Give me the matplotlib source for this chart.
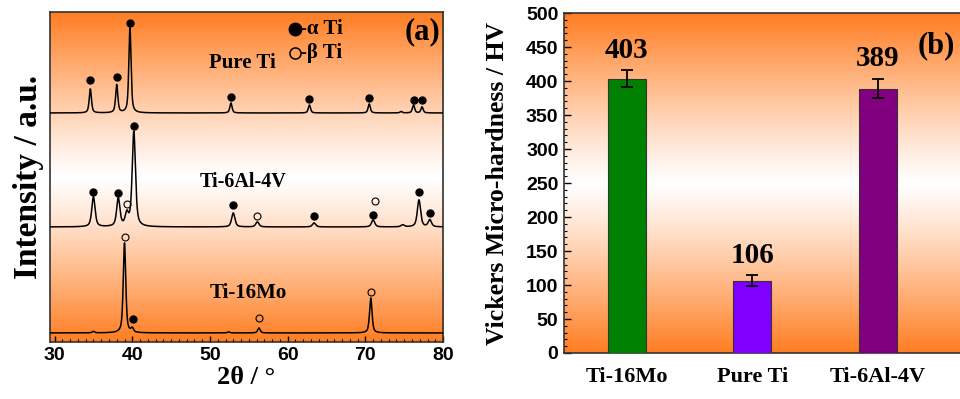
import matplotlib
matplotlib.use('Agg')
import matplotlib.pyplot as plt
import numpy as np
from matplotlib.colors import to_rgb
from matplotlib.ticker import MultipleLocator

# ---- panel (a): XRD peaks (2theta, height in a.u.)
pure_ti_pos = [34.6, 38.0, 39.7, 52.7, 62.8, 70.5, 74.6, 76.2, 77.3]
pure_ti_int = [24, 28, 85, 10, 8, 9, 1.5, 8, 6]
ti64_pos = [35.0, 38.2, 39.3, 40.2, 53.0, 56.1, 63.4, 71.0, 74.8, 76.9, 78.3]
ti64_int = [30, 28, 12, 95, 14, 5, 4, 7, 2, 27, 7]
ti16mo_pos = [35.0, 39.0, 40.0, 52.4, 56.3, 70.7]
ti16mo_int = [1.5, 90, 4, 1, 5, 35]

# phase markers (2theta, height above baseline)
pure_ti_alpha_x = [34.6, 38.0, 39.7, 52.7, 62.8, 70.5, 76.2, 77.3]
pure_ti_alpha_y = [33, 36, 90, 16, 14, 15, 13, 13]
ti64_alpha_x = [35.0, 38.2, 40.2, 53.0, 63.4, 71.0, 76.9, 78.3]
ti64_alpha_y = [35, 34, 101, 22, 11, 12, 35, 14]
ti64_beta_x = [39.3, 56.1, 71.2]
ti64_beta_y = [23, 11, 26]
ti16mo_alpha_x = [40.1]
ti16mo_alpha_y = [14]
ti16mo_beta_x = [39.0, 56.3, 70.7]
ti16mo_beta_y = [96, 15, 41]

# ---- panel (b): hardness
alloys = ['Ti-16Mo', 'Pure Ti', 'Ti-6Al-4V']
hardness = [403, 106, 389]
hardness_err = [12.5, 8, 14]
bar_colors = ['#008000', '#8000ff', '#800080']

ORANGE = '#ff7d22'
SERIF = ['Liberation Serif', 'DejaVu Serif']
SANS = 'Liberation Sans'


def gradient_bg(ax, color=ORANGE, power=1.15):
    t = np.linspace(0, 1, 400)
    d = np.abs(t - 0.5) * 2
    f = (d ** power)[:, None]
    c = np.array(to_rgb(color))[None, :]
    img = (1 - f) * np.ones(3)[None, :] + f * c
    img = img[:, None, :]
    ax.imshow(img, extent=[0, 1, 0, 1], transform=ax.transAxes,
              aspect='auto', origin='lower', zorder=0)


def pattern(x, pos, height, fwhm=0.35, eta=0.6):
    y = np.zeros_like(x)
    hw = fwhm / 2
    for p, h in zip(pos, height):
        lor = 1 / (1 + ((x - p) / hw) ** 2)
        gau = np.exp(-np.log(2) * ((x - p) / hw) ** 2)
        y += h * (eta * lor + (1 - eta) * gau)
    return y


fig = plt.figure(figsize=(9.6, 3.99), dpi=100)

# ---------------- (a)
ax = fig.add_axes([0.052, 0.143, 0.4095, 0.827])
gradient_bg(ax)
x = np.linspace(29.4, 80, 3000)
curves = [
    (229, pure_ti_pos, pure_ti_int, 0.34, pure_ti_alpha_x, pure_ti_alpha_y, [], []),
    (115, ti64_pos, ti64_int, 0.5, ti64_alpha_x, ti64_alpha_y, ti64_beta_x, ti64_beta_y),
    (9, ti16mo_pos, ti16mo_int, 0.38, ti16mo_alpha_x, ti16mo_alpha_y, ti16mo_beta_x, ti16mo_beta_y),
]
for base, pos, hgt, w, ax_x, ax_y, bx, by in curves:
    ax.plot(x, base + pattern(x, pos, hgt, w), color='black', lw=1.1, zorder=3)
    ax.plot(ax_x, base + np.array(ax_y, float), 'o', color='black', ms=5, zorder=4)
    if bx:
        ax.plot(bx, base + np.array(by, float), 'o', mfc='none', mec='black',
                mew=0.8, ms=5, zorder=4)

ax.text(54.2, 279, 'Pure Ti', family=SERIF, weight='bold', fontsize=15,
        ha='center', va='center')
ax.text(54.2, 160, 'Ti-6Al-4V', family=SERIF, weight='bold', fontsize=14.5,
        ha='center', va='center')
ax.text(54.9, 49, 'Ti-16Mo', family=SERIF, weight='bold', fontsize=15,
        ha='center', va='center')

# phase key
ax.plot([60.9], [313], 'o', color='black', ms=9, zorder=4)
ax.plot([60.9], [289], 'o', mfc='none', mec='black', mew=1.1, ms=8, zorder=4)
ax.text(61.6, 313, '-\u03b1 Ti', family=SERIF, weight='bold', fontsize=15,
        va='center')
ax.text(61.6, 289, '-\u03b2 Ti', family=SERIF, weight='bold', fontsize=15,
        va='center')
ax.text(79.7, 310, '(a)', family=SERIF, weight='bold', fontsize=22,
        ha='right', va='center')

ax.set_xlim(29.4, 80)
ax.set_ylim(0, 330)
ax.set_xticks([30, 40, 50, 60, 70, 80])
ax.xaxis.set_minor_locator(MultipleLocator(1))
ax.set_yticks([])
ax.tick_params(axis='x', which='both', direction='in', top=False)
ax.tick_params(axis='x', which='major', length=4, width=1, labelsize=14, pad=4)
ax.tick_params(axis='x', which='minor', length=2, width=0.8)
for lab in ax.get_xticklabels():
    lab.set_fontfamily(SANS)
    lab.set_fontweight('bold')
ax.set_xlabel('2\u03b8 / \u00b0', family=SERIF, weight='bold', fontsize=19, labelpad=1)
ax.set_ylabel('Intensity / a.u.', family=SERIF, weight='bold', fontsize=24, labelpad=4)
for s in ax.spines.values():
    s.set_linewidth(1.2)
    s.set_color('#333333')

# ---------------- (b)
bx_ = fig.add_axes([0.5875, 0.1153, 0.425, 0.852])
gradient_bg(bx_)
xpos = np.arange(len(alloys))
bx_.bar(xpos, hardness, width=0.3, color=bar_colors, edgecolor='#333333',
        linewidth=0.8, zorder=3)
bx_.errorbar(xpos, hardness, yerr=hardness_err, fmt='none', ecolor='black',
             elinewidth=1.3, capsize=4, capthick=1.3, zorder=4)
for xi, v, e in zip(xpos, hardness, hardness_err):
    bx_.text(xi, v + e + 30, str(v), family=SERIF, weight='bold', fontsize=21,
             ha='center', va='center', zorder=5)
bx_.text(2.32, 452, '(b)', family=SERIF, weight='bold', fontsize=22,
         ha='left', va='center')

bx_.set_xlim(-0.5, 2.75)
bx_.set_ylim(0, 500)
bx_.set_xticks(xpos)
bx_.set_xticklabels(alloys, family=SERIF, weight='bold', fontsize=16)
bx_.tick_params(axis='x', length=0, pad=10)
bx_.set_yticks(np.arange(0, 501, 50))
bx_.yaxis.set_minor_locator(MultipleLocator(10))
bx_.tick_params(axis='y', which='both', direction='in')
bx_.tick_params(axis='y', which='major', length=5, width=1, labelsize=14, pad=4)
bx_.tick_params(axis='y', which='minor', length=2.5, width=0.8)
for lab in bx_.get_yticklabels():
    lab.set_fontfamily(SANS)
    lab.set_fontweight('bold')
bx_.set_ylabel('Vickers Micro-hardness / HV', family=SERIF, weight='bold',
               fontsize=18.5, labelpad=12)
for s in bx_.spines.values():
    s.set_linewidth(1.2)
    s.set_color('#333333')

fig.savefig('out.png', dpi=100)
